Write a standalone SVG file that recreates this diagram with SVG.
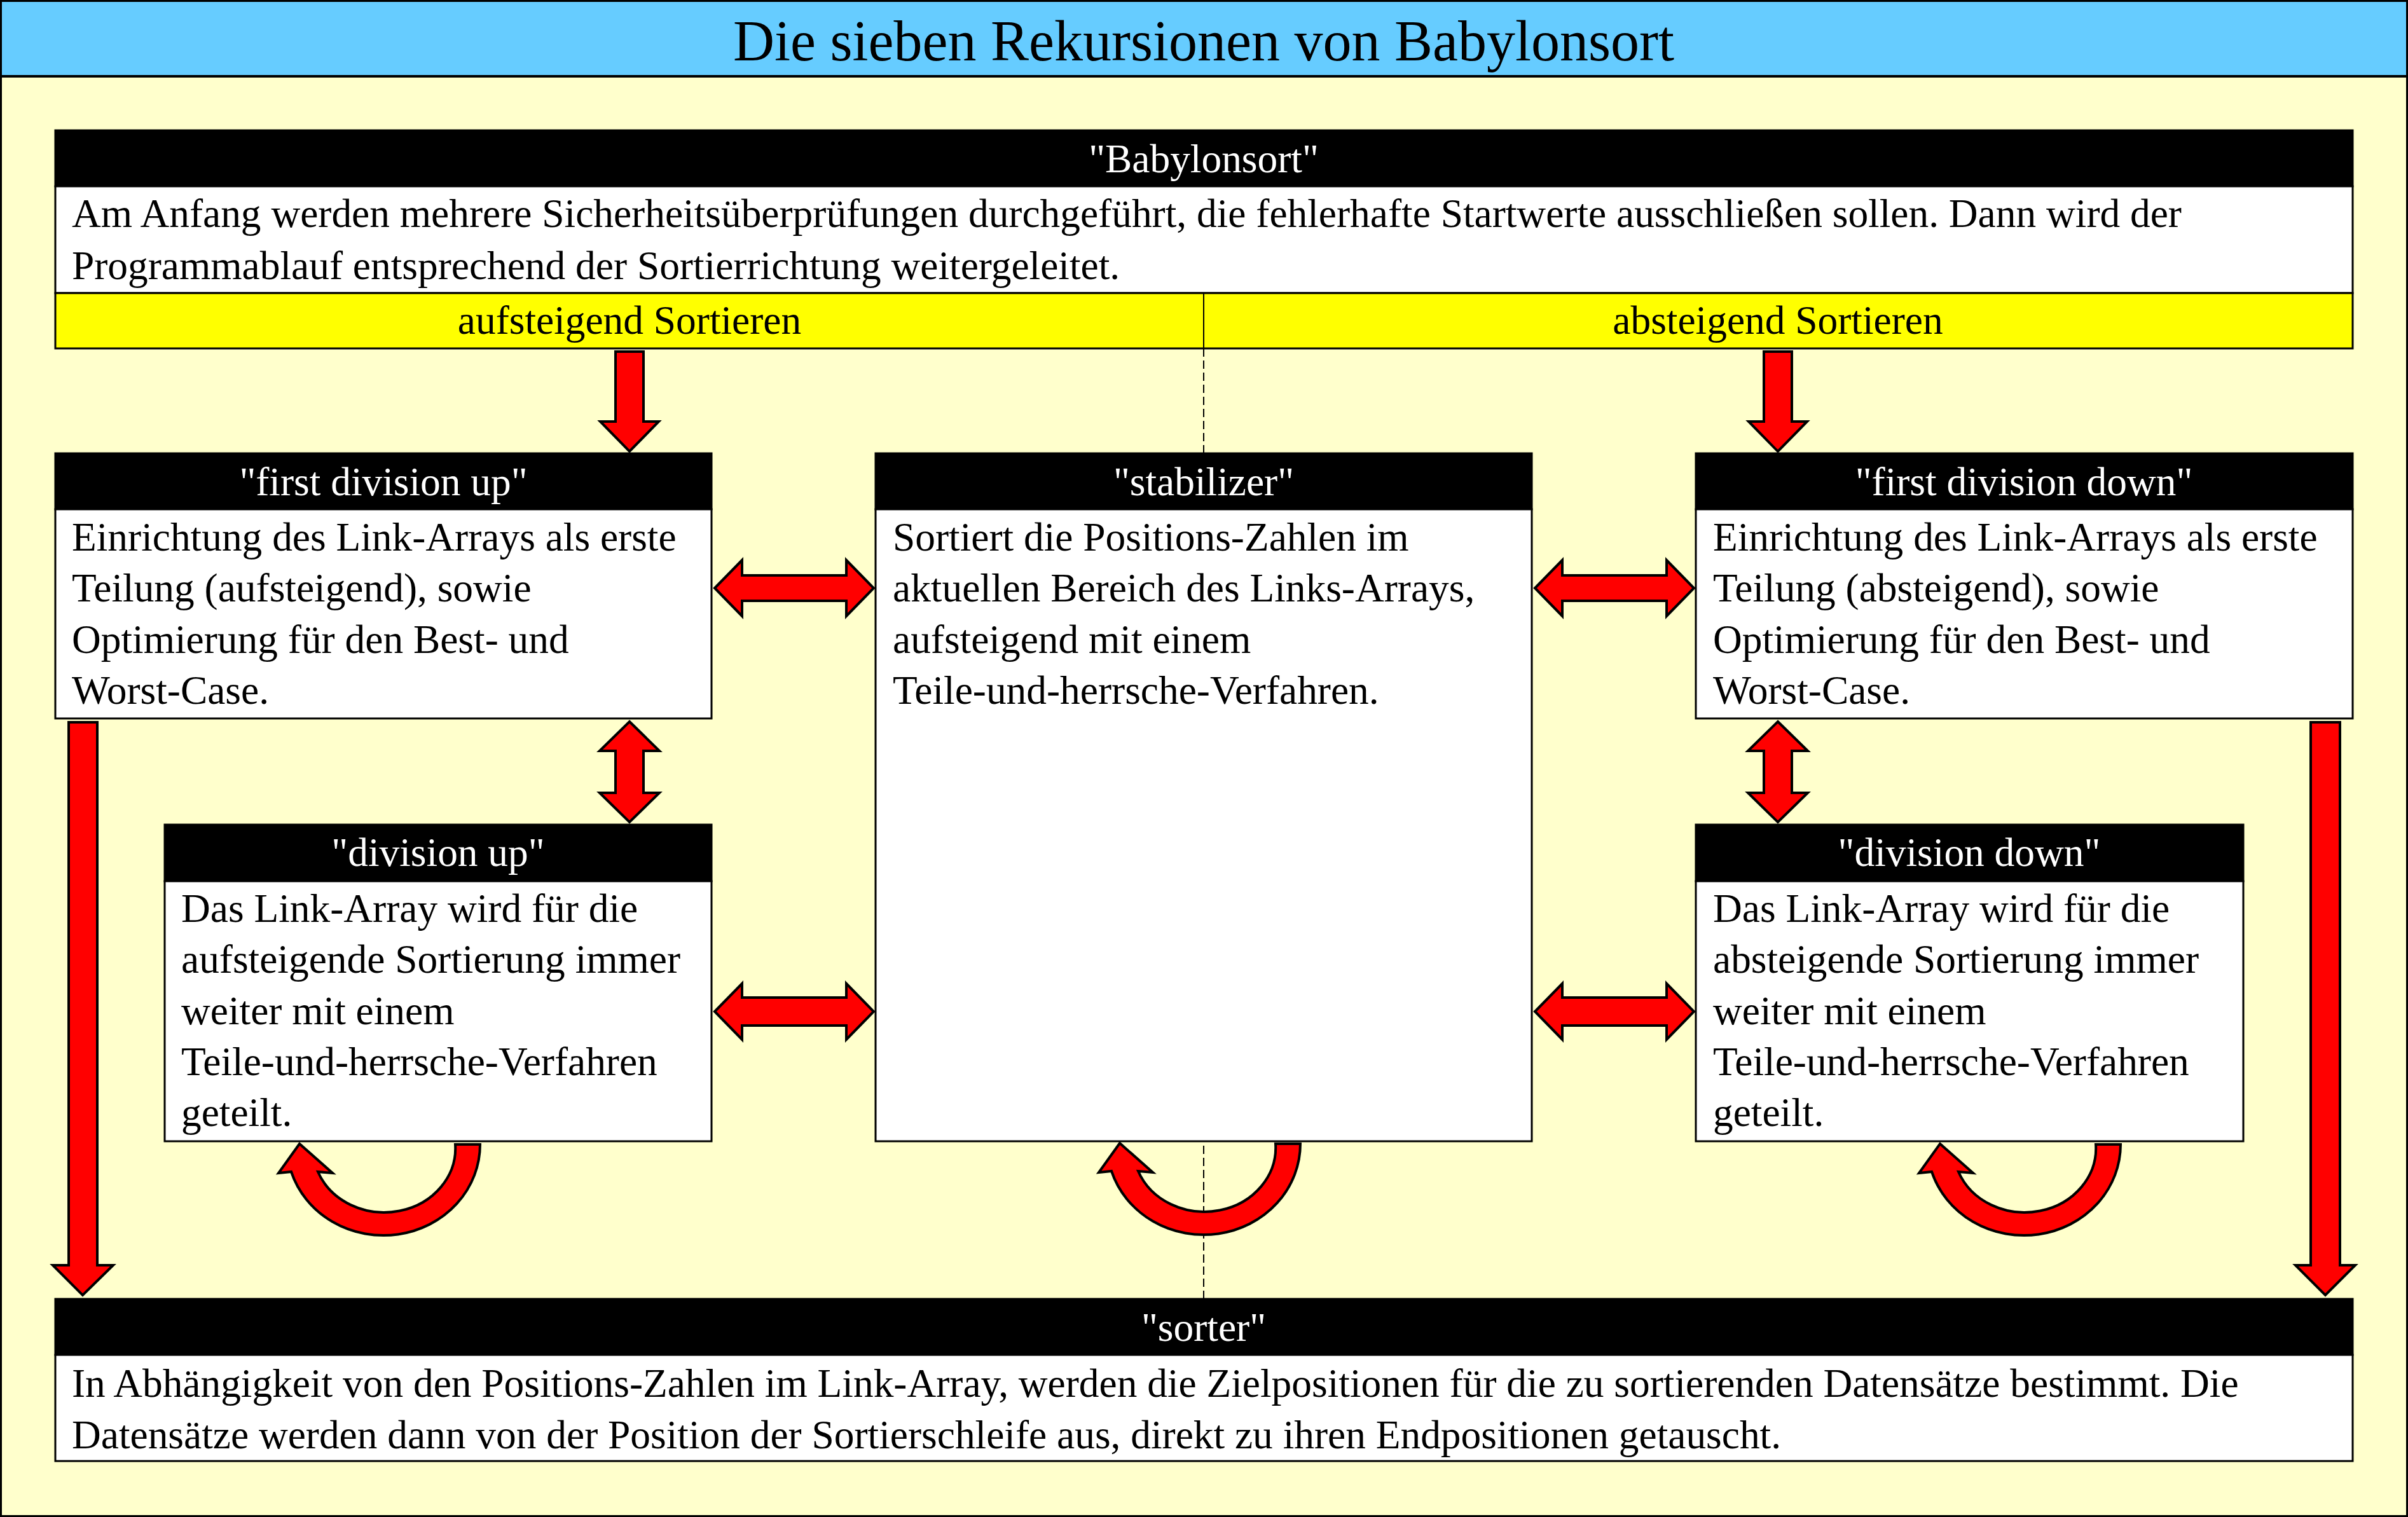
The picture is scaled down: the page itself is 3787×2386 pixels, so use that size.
<svg xmlns="http://www.w3.org/2000/svg" width="3787" height="2386" viewBox="0 0 3787 2386">
<style>
.hdr{fill:#000000;stroke:#000000;stroke-width:3}
.body{fill:#ffffff;stroke:#000000;stroke-width:3}
.bar{fill:#ffff00;stroke:#000000;stroke-width:3}
.ht{font-family:"Liberation Serif","Times New Roman",serif;font-size:63.4px;fill:#ffffff;text-anchor:middle}
.bt{font-family:"Liberation Serif","Times New Roman",serif;font-size:63.4px;fill:#000000}
.ct{font-family:"Liberation Serif","Times New Roman",serif;font-size:63.4px;fill:#000000;text-anchor:middle}
.arr{fill:#ff0000;stroke:#000000;stroke-width:4;stroke-linejoin:miter}
.dash{stroke:#000000;stroke-width:2;stroke-dasharray:13,6;fill:none}
</style>
<defs>
<path id="uturn" d="M152,0 A152,143 0 0 1 -145,43 L-165,45 L-132,-1 L-80,45 L-103,43 A112,101 0 0 0 113,0 Z"/>
</defs>
<rect x="0" y="0" width="3787" height="2386" fill="#ffffcc"/>
<g id="title">
<rect x="0" y="0" width="3787" height="120" fill="#66ccff"/>
<line x1="0" y1="120" x2="3787" y2="120" stroke="#000000" stroke-width="4"/>
<text x="1893" y="95" font-family="Liberation Serif, Times New Roman, serif" font-size="90" text-anchor="middle" fill="#000000">Die sieben Rekursionen von Babylonsort</text>
</g>
<rect x="1.5" y="1.5" width="3784" height="2383" fill="none" stroke="#000000" stroke-width="3"/>
<g id="connectors">
<line class="dash" x1="1893" y1="548" x2="1893" y2="2043"/>
<path class="arr" d="M968,553 L1012,553 L1012,663 L1036,663 L990,710 L944,663 L968,663 Z"/>
<path class="arr" d="M2774,553 L2818,553 L2818,663 L2842,663 L2796,710 L2750,663 L2774,663 Z"/>
<path class="arr" d="M1124,925 L1167,881 L1167,905 L1331,905 L1331,881 L1374,925 L1331,969 L1331,945 L1167,945 L1167,969 Z"/>
<path class="arr" d="M2414,925 L2457,881 L2457,905 L2621,905 L2621,881 L2664,925 L2621,969 L2621,945 L2457,945 L2457,969 Z"/>
<path class="arr" d="M1124,1591 L1167,1547 L1167,1569 L1331,1569 L1331,1547 L1374,1591 L1331,1635 L1331,1613 L1167,1613 L1167,1635 Z"/>
<path class="arr" d="M2414,1591 L2457,1547 L2457,1569 L2621,1569 L2621,1547 L2664,1591 L2621,1635 L2621,1613 L2457,1613 L2457,1635 Z"/>
<path class="arr" d="M990,1135 L1037,1181 L1012,1181 L1012,1247 L1037,1247 L990,1293 L943,1247 L968,1247 L968,1181 L943,1181 Z"/>
<path class="arr" d="M2796,1135 L2843,1181 L2818,1181 L2818,1247 L2843,1247 L2796,1293 L2749,1247 L2774,1247 L2774,1181 L2749,1181 Z"/>
<path class="arr" d="M108,1136 L153,1136 L153,1990 L178,1990 L130,2037 L83,1990 L108,1990 Z"/>
<path class="arr" d="M3634,1136 L3680,1136 L3680,1990 L3704,1990 L3657,2037 L3610,1990 L3634,1990 Z"/>
<use href="#uturn" class="arr" transform="translate(603,1800)"/>
<use href="#uturn" class="arr" transform="translate(1893,1799)"/>
<use href="#uturn" class="arr" transform="translate(3183,1800)"/>
</g>
<g id="babylonsort">
<rect class="hdr" x="87" y="205" width="3613" height="88"/>
<rect class="body" x="87" y="293" width="3613" height="168"/>
<rect class="bar" x="87" y="461" width="3613" height="87"/>
<line x1="1893" y1="461" x2="1893" y2="548" stroke="#000000" stroke-width="2"/>
<text class="ht" x="1893" y="271">"Babylonsort"</text>
<text class="bt" x="113" y="357">Am Anfang werden mehrere Sicherheitsüberprüfungen durchgeführt, die fehlerhafte Startwerte ausschließen sollen. Dann wird der</text>
<text class="bt" x="113" y="439">Programmablauf entsprechend der Sortierrichtung weitergeleitet.</text>
<text class="ct" x="990" y="525">aufsteigend Sortieren</text>
<text class="ct" x="2796" y="525">absteigend Sortieren</text>
</g>
<g id="first-division-up">
<rect class="hdr" x="87" y="713" width="1032" height="88"/>
<rect class="body" x="87" y="801" width="1032" height="329"/>
<text class="ht" x="603" y="779">"first division up"</text>
<text class="bt" x="113" y="866">Einrichtung des Link-Arrays als erste</text>
<text class="bt" x="113" y="946">Teilung (aufsteigend), sowie</text>
<text class="bt" x="113" y="1027">Optimierung für den Best- und</text>
<text class="bt" x="113" y="1107">Worst-Case.</text>
</g>
<g id="stabilizer">
<rect class="hdr" x="1377" y="713" width="1032" height="88"/>
<rect class="body" x="1377" y="801" width="1032" height="994"/>
<text class="ht" x="1893" y="779">"stabilizer"</text>
<text class="bt" x="1404" y="866">Sortiert die Positions-Zahlen im</text>
<text class="bt" x="1404" y="946">aktuellen Bereich des Links-Arrays,</text>
<text class="bt" x="1404" y="1027">aufsteigend mit einem</text>
<text class="bt" x="1404" y="1107">Teile-und-herrsche-Verfahren.</text>
</g>
<g id="first-division-down">
<rect class="hdr" x="2667" y="713" width="1033" height="88"/>
<rect class="body" x="2667" y="801" width="1033" height="329"/>
<text class="ht" x="3183" y="779">"first division down"</text>
<text class="bt" x="2694" y="866">Einrichtung des Link-Arrays als erste</text>
<text class="bt" x="2694" y="946">Teilung (absteigend), sowie</text>
<text class="bt" x="2694" y="1027">Optimierung für den Best- und</text>
<text class="bt" x="2694" y="1107">Worst-Case.</text>
</g>
<g id="division-up">
<rect class="hdr" x="259" y="1297" width="860" height="89"/>
<rect class="body" x="259" y="1386" width="860" height="409"/>
<text class="ht" x="689" y="1362">"division up"</text>
<text class="bt" x="285" y="1450">Das Link-Array wird für die</text>
<text class="bt" x="285" y="1530">aufsteigende Sortierung immer</text>
<text class="bt" x="285" y="1611">weiter mit einem</text>
<text class="bt" x="285" y="1691">Teile-und-herrsche-Verfahren</text>
<text class="bt" x="285" y="1771">geteilt.</text>
</g>
<g id="division-down">
<rect class="hdr" x="2667" y="1297" width="861" height="89"/>
<rect class="body" x="2667" y="1386" width="861" height="409"/>
<text class="ht" x="3097" y="1362">"division down"</text>
<text class="bt" x="2694" y="1450">Das Link-Array wird für die</text>
<text class="bt" x="2694" y="1530">absteigende Sortierung immer</text>
<text class="bt" x="2694" y="1611">weiter mit einem</text>
<text class="bt" x="2694" y="1691">Teile-und-herrsche-Verfahren</text>
<text class="bt" x="2694" y="1771">geteilt.</text>
</g>
<g id="sorter">
<rect class="hdr" x="87" y="2043" width="3613" height="88"/>
<rect class="body" x="87" y="2131" width="3613" height="167"/>
<text class="ht" x="1893" y="2109">"sorter"</text>
<text class="bt" x="113" y="2197">In Abhängigkeit von den Positions-Zahlen im Link-Array, werden die Zielpositionen für die zu sortierenden Datensätze bestimmt. Die</text>
<text class="bt" x="113" y="2278">Datensätze werden dann von der Position der Sortierschleife aus, direkt zu ihren Endpositionen getauscht.</text>
</g>
</svg>
